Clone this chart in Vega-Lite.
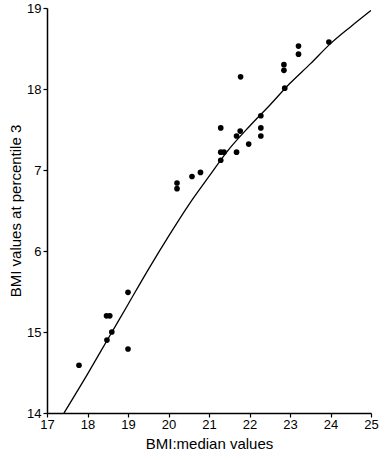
{
  "$schema": "https://vega.github.io/schema/vega-lite/v6.json",
  "width": 324,
  "height": 405,
  "autosize": {"type": "none"},
  "padding": {"left": 47, "top": 8, "right": 20, "bottom": 47},
  "background": "white",
  "config": {
    "view": {"stroke": null},
    "font": "Liberation Sans",
    "axis": {
      "domainColor": "black",
      "domainWidth": 1.5,
      "tickColor": "black",
      "tickWidth": 1.2,
      "tickSize": 4,
      "grid": false,
      "labelColor": "black",
      "labelFontSize": 13,
      "labelFont": "Liberation Sans",
      "titleColor": "black",
      "titleFont": "Liberation Sans",
      "titleFontSize": 15,
      "titleFontWeight": "normal"
    }
  },
  "datasets": {
    "pts": [
      {"median": 17.79, "p3": 14.59},
      {"median": 18.48, "p3": 14.9},
      {"median": 18.47, "p3": 15.2},
      {"median": 18.55, "p3": 15.2},
      {"median": 18.6, "p3": 15.0},
      {"median": 19.0, "p3": 15.49},
      {"median": 19.0, "p3": 14.79},
      {"median": 20.21, "p3": 16.84},
      {"median": 20.21, "p3": 16.77},
      {"median": 20.58, "p3": 16.92},
      {"median": 20.79, "p3": 16.97},
      {"median": 21.29, "p3": 17.52},
      {"median": 21.29, "p3": 17.22},
      {"median": 21.37, "p3": 17.22},
      {"median": 21.29, "p3": 17.12},
      {"median": 21.68, "p3": 17.22},
      {"median": 21.68, "p3": 17.42},
      {"median": 21.77, "p3": 17.48},
      {"median": 21.78, "p3": 18.15},
      {"median": 21.98, "p3": 17.32},
      {"median": 22.28, "p3": 17.67},
      {"median": 22.28, "p3": 17.52},
      {"median": 22.28, "p3": 17.42},
      {"median": 22.85, "p3": 18.3},
      {"median": 22.85, "p3": 18.23},
      {"median": 22.87, "p3": 18.01},
      {"median": 23.21, "p3": 18.53},
      {"median": 23.21, "p3": 18.43},
      {"median": 23.96, "p3": 18.58}
    ],
    "fit": [
      {"median": 17.42, "p3": 14.0},
      {"median": 18.0, "p3": 14.48},
      {"median": 18.5, "p3": 14.91},
      {"median": 19.0, "p3": 15.34},
      {"median": 19.5, "p3": 15.77},
      {"median": 20.0, "p3": 16.18},
      {"median": 20.5, "p3": 16.57},
      {"median": 21.0, "p3": 16.92},
      {"median": 21.5, "p3": 17.26},
      {"median": 22.0, "p3": 17.54},
      {"median": 22.5, "p3": 17.8},
      {"median": 23.0, "p3": 18.07},
      {"median": 23.5, "p3": 18.31},
      {"median": 24.0, "p3": 18.56},
      {"median": 24.5, "p3": 18.77},
      {"median": 25.0, "p3": 18.97}
    ]
  },
  "encoding": {
    "x": {
      "field": "median", "type": "quantitative",
      "scale": {"domain": [17, 25], "nice": false, "zero": false},
      "axis": {"title": "BMI:median values", "values": [17,18,19,20,21,22,23,24,25], "labelPadding": 1, "titlePadding": 5, "labelFlush": false}
    },
    "y": {
      "field": "p3", "type": "quantitative",
      "scale": {"domain": [14, 19], "nice": false, "zero": false},
      "axis": {"title": "BMI values at percentile 3", "values": [14,15,16,17,18,19], "labelPadding": 2, "titlePadding": 3, "labelFlush": false,
        "labelExpr": "datum.value == 16 ? '6' : datum.value == 17 ? '7' : datum.label"}
    }
  },
  "layer": [
    {
      "data": {"name": "fit"},
      "mark": {"type": "line", "color": "black", "strokeWidth": 1.3, "interpolate": "monotone", "clip": true}
    },
    {
      "data": {"name": "pts"},
      "mark": {"type": "point", "filled": true, "color": "black", "opacity": 1, "size": 32}
    }
  ]
}
